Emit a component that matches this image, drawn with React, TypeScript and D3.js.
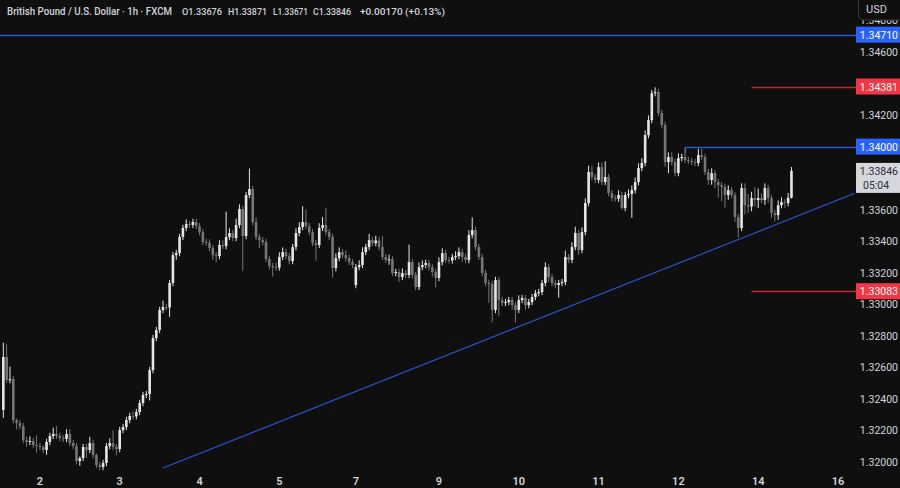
import React from "react";
import * as d3 from "d3";

// ---------- data ----------
const title = "British Pound / U.S. Dollar · 1h · FXCM";
const ohlcLabels = ["O1.33676", "H1.33871", "L1.33671", "C1.33846", "+0.00170 (+0.13%)"];

const firstOpen = 1.3233;
const gapIndex = 106; // weekend gap candle
const gapOpen = 1.33122;

const closes = [
  1.32666, 1.3252, 1.32525, 1.32266, 1.32247, 1.32228, 1.32139, 1.32127, 1.32133, 1.32108,
  1.32101, 1.32095, 1.32076, 1.32127, 1.32165, 1.32178, 1.32165, 1.32152, 1.32146, 1.32178,
  1.3212, 1.32101, 1.32006, 1.32025, 1.32095, 1.32076, 1.3212, 1.32044, 1.31981, 1.31968,
  1.31994, 1.32101, 1.3212, 1.32095, 1.32082, 1.32203, 1.32222, 1.32266, 1.32292, 1.3229,
  1.32317, 1.32374, 1.32425, 1.32431, 1.32583, 1.32786, 1.32837, 1.32964, 1.32983, 1.3298,
  1.33135, 1.33312, 1.33325, 1.33427, 1.33484, 1.33509, 1.33503, 1.33522, 1.33496, 1.33458,
  1.33395, 1.33392, 1.33357, 1.33312, 1.33306, 1.33376, 1.33369, 1.33427, 1.33452, 1.3342,
  1.33503, 1.33604, 1.33433, 1.33693, 1.33731, 1.33522, 1.33427, 1.33407, 1.33395, 1.33287,
  1.33243, 1.33236, 1.33233, 1.333, 1.33331, 1.33306, 1.33274, 1.33363, 1.33452, 1.3349,
  1.33522, 1.33496, 1.33458, 1.33388, 1.33376, 1.33484, 1.33503, 1.33458, 1.33427, 1.3323,
  1.33293, 1.33331, 1.33312, 1.33293, 1.33268, 1.33249, 1.33236, 1.33249, 1.33331, 1.33363,
  1.33407, 1.33388, 1.33405, 1.33363, 1.333, 1.33281, 1.33285, 1.33198, 1.33205, 1.33173,
  1.33198, 1.33186, 1.33268, 1.33186, 1.3311, 1.33236, 1.33249, 1.33262, 1.33236, 1.33205,
  1.33167, 1.33268, 1.33325, 1.33281, 1.33278, 1.333, 1.33306, 1.33331, 1.333, 1.33281,
  1.33439, 1.33471, 1.33363, 1.333, 1.33198, 1.33135, 1.33129, 1.32964, 1.33154, 1.33027,
  1.33008, 1.33014, 1.33027, 1.32995, 1.32964, 1.33027, 1.3304, 1.32995, 1.33014, 1.33046,
  1.33071, 1.33078, 1.33135, 1.33236, 1.33173, 1.33135, 1.33122, 1.33135, 1.33141, 1.333,
  1.33281, 1.33363, 1.33452, 1.33344, 1.33458, 1.33642, 1.33839, 1.33807, 1.33788, 1.3387,
  1.33775, 1.33807, 1.33705, 1.33674, 1.3367, 1.33693, 1.3361, 1.33693, 1.33699, 1.33724,
  1.33775, 1.33864, 1.33896, 1.34073, 1.34168, 1.34339, 1.34346, 1.34213, 1.34137, 1.33902,
  1.33934, 1.33902, 1.33832, 1.33927, 1.33934, 1.33915, 1.33909, 1.33902, 1.33896, 1.33946,
  1.33934, 1.33839, 1.33788, 1.33832, 1.33775, 1.33756, 1.33744, 1.33693, 1.33724, 1.33693,
  1.33553, 1.33484, 1.33737, 1.33629, 1.3362, 1.33674, 1.33661, 1.33674, 1.33661, 1.33737,
  1.33674, 1.33579, 1.33566, 1.33629, 1.33648, 1.33642, 1.33676, 1.33846,
];

// upper / lower wick lengths in pips
const wickUp = [
  9, 8, 8, 2, 1, 2, 2, 2, 3, 2,
  6, 2, 1, 2, 2, 4, 5, 2, 2, 3,
  3, 2, 2, 1, 2, 2, 4, 2, 1, 2,
  2, 2, 3, 8, 2, 2, 2, 2, 2, 3,
  2, 2, 2, 2, 2, 2, 2, 2, 4, 2,
  2, 2, 2, 2, 2, 3, 2, 2, 2, 2,
  2, 2, 2, 2, 2, 3, 3, 16, 3, 2,
  4, 3, 2, 2, 13, 2, 3, 2, 2, 2,
  2, 2, 3, 3, 3, 2, 2, 2, 3, 3,
  10, 8, 2, 2, 2, 3, 5, 11, 2, 2,
  3, 3, 2, 3, 2, 2, 2, 3, 3, 2,
  4, 2, 3, 2, 7, 2, 3, 2, 2, 2,
  3, 2, 11, 2, 2, 3, 3, 2, 2, 2,
  2, 3, 3, 2, 2, 2, 3, 3, 2, 2,
  3, 8, 2, 2, 2, 2, 2, 2, 2, 2,
  2, 2, 2, 2, 2, 3, 2, 2, 2, 2,
  2, 2, 2, 3, 2, 2, 2, 2, 2, 4,
  2, 3, 4, 2, 3, 3, 4, 4, 2, 3,
  3, 10, 2, 2, 2, 3, 2, 2, 3, 3,
  3, 3, 3, 3, 3, 2, 3, 2, 2, 2,
  3, 3, 2, 3, 2, 6, 2, 2, 2, 4,
  4, 2, 2, 3, 2, 2, 2, 2, 3, 2,
  2, 2, 3, 3, 7, 4, 7, 6, 3, 3,
  2, 2, 2, 3, 3, 2, 3, 2.5,
];
const wickDn = [
  5, 2, 2, 2, 4, 2, 2, 3, 2, 2,
  4, 2, 2, 3, 2, 2, 2, 2, 2, 2,
  2, 2, 2, 3, 2, 5, 2, 2, 2, 2,
  2, 2, 2, 2, 4, 2, 2, 2, 2, 2,
  2, 2, 2, 2, 4, 2, 2, 2, 2, 2,
  6, 2, 3, 2, 2, 2, 2, 2, 2, 2,
  2, 2, 2, 3, 4, 2, 2, 2, 2, 2,
  2, 2, 22, 2, 2, 2, 2, 5, 2, 2,
  2, 6, 2, 2, 2, 2, 2, 2, 2, 2,
  2, 2, 2, 2, 10, 2, 2, 2, 2, 6,
  2, 2, 2, 2, 2, 2, 2, 2, 2, 2,
  2, 2, 2, 2, 2, 2, 3, 2, 2, 3,
  2, 2, 2, 2, 2, 2, 2, 2, 2, 3,
  6, 2, 2, 2, 2, 2, 2, 2, 3, 2,
  2, 2, 2, 2, 2, 2, 12, 8, 2, 10,
  2, 2, 2, 3, 8, 2, 2, 3, 2, 2,
  2, 2, 2, 2, 3, 2, 2, 8, 2, 2,
  2, 2, 2, 3, 2, 2, 2, 2, 2, 2,
  2, 2, 2, 2, 2, 2, 1, 2, 2, 15,
  2, 2, 2, 2, 2, 2, 2, 2, 2, 3,
  7, 2, 2, 2, 2, 2, 2, 2, 2, 2,
  2, 2, 3, 3, 4, 8, 9, 8, 3, 2,
  3, 6, 2, 6, 4, 3, 4, 5, 2, 3,
  3, 3, 4, 3, 2, 3, 2, 0.5,
];

const dayTickIndex = [11, 35, 59, 83, 106, 131, 155, 179, 203, 227, 251];
const dayTickLabel = ["2", "3", "4", "5", "7", "9", "10", "11", "12", "14", "16"];

const priceTicks = [1.32, 1.322, 1.324, 1.326, 1.328, 1.33, 1.332, 1.334, 1.336, 1.338, 1.34, 1.342, 1.344, 1.346, 1.348];

const levelPrices = [1.3471, 1.34381, 1.34, 1.33083];
const levelColors = ["blue", "red", "blue", "red"];
const levelStartIndex = [-1, 225, 205, 225];

const trendIndex = [48, 256];
const trendPrice = [1.31962, 1.33704];

const lastPrice = 1.33846;
const countdown = "05:04";
const currency = "USD";

// header item placement (px)
const titleX = 7;
const titleW = 165;
const ohlcX = [182, 228, 273, 313, 360];
const ohlcW = [40, 39, 35, 38, 85];

// ---------- layout ----------
const W = 900;
const H = 488;
const plotRight = 848;
const axisTextEnd = 898;
const BG = "#0f0f0f";
const BULL = "#e6e6e6";
const BEAR = "#767676";
const BLUE_LINE = "#2c56d8";
const BLUE_BOX = "#2962ff";
const RED_LINE = "#d0232f";
const RED_BOX = "#f23645";
const TEXT = "#d1d4dc";
const FONT = "Roboto, 'Liberation Sans', Arial, sans-serif";

export default function App() {
  const x = d3.scaleLinear().domain([-1, 254]).range([0, plotRight]);
  const y = d3.scaleLinear().domain([1.32, 1.346]).range([462, 52]);
  const step = x(1) - x(0);
  const bodyW = step * 0.78;

  const candles = closes.map((c, i) => {
    const o = i === 0 ? firstOpen : i === gapIndex ? gapOpen : closes[i - 1];
    const h = Math.max(o, c) + wickUp[i] / 10000;
    const l = Math.min(o, c) - wickDn[i] / 10000;
    return { i, o, h, l, c, bull: c >= o };
  });

  const trend = d3.line<number>()
    .x((_, k) => x(trendIndex[k]))
    .y((p) => y(p));

  const boxCenters = [...levelPrices.map((p) => y(p)), y(lastPrice) + 7];
  const boxHalf = [8, 8, 8, 8, 15];
  const visibleTicks = priceTicks.filter((p) =>
    boxCenters.every((c, k) => Math.abs(y(p) - c) > boxHalf[k] + 1)
  );

  return (
    <div style={{ width: W, height: H, background: BG }}>
      <style>{`html,body{margin:0;padding:0;background:${BG};}`}</style>
      <svg width={W} height={H} style={{ display: "block", fontFamily: FONT }}>
        <rect x={0} y={0} width={W} height={H} fill={BG} />
        <defs>
          <clipPath id="plot">
            <rect x={0} y={0} width={856} height={472} />
          </clipPath>
        </defs>

        <g clipPath="url(#plot)">
          {levelPrices.map((p, k) => (
            <line
              key={"lv" + k}
              x1={x(levelStartIndex[k])}
              x2={856}
              y1={Math.round(y(p)) + 0.5}
              y2={Math.round(y(p)) + 0.5}
              stroke={levelColors[k] === "blue" ? BLUE_LINE : RED_LINE}
              strokeWidth={1.4}
            />
          ))}
          <line
            x1={Math.round(x(levelStartIndex[2])) + 0.5}
            x2={Math.round(x(levelStartIndex[2])) + 0.5}
            y1={Math.round(y(levelPrices[2]))}
            y2={Math.round(y(levelPrices[2])) + 6}
            stroke={BLUE_LINE}
            strokeWidth={1.2}
          />
          <path d={trend(trendPrice) || ""} fill="none" stroke={BLUE_LINE} strokeWidth={1.1} />

          {candles.map((d) => {
            const cx = x(d.i);
            const col = d.bull ? BULL : BEAR;
            const top = y(Math.max(d.o, d.c));
            const bot = y(Math.min(d.o, d.c));
            return (
              <g key={d.i}>
                <line x1={cx} x2={cx} y1={y(d.h)} y2={y(d.l)} stroke={col} strokeWidth={1} />
                <rect x={cx - bodyW / 2} y={top} width={bodyW} height={Math.max(1, bot - top)} fill={col} />
              </g>
            );
          })}
        </g>

        {visibleTicks.map((p) => (
          <text key={"pt" + p} x={axisTextEnd} y={y(p) + 4} fill={TEXT} fontSize={10.5} textAnchor="end">
            {p.toFixed(5)}
          </text>
        ))}

        {levelPrices.map((p, k) => (
          <g key={"lb" + k}>
            <rect
              x={856}
              y={y(p) - 8}
              width={46}
              height={16}
              fill={levelColors[k] === "blue" ? BLUE_BOX : RED_BOX}
            />
            <text x={axisTextEnd} y={y(p) + 4} fill="#ffffff" fontSize={10.5} textAnchor="end">
              {p.toFixed(5)}
            </text>
          </g>
        ))}

        <rect x={856} y={y(lastPrice) - 8} width={46} height={30} fill="#d5d7dc" />
        <text x={axisTextEnd} y={y(lastPrice) + 4} fill="#2a2e39" fontSize={10.5} textAnchor="end">
          {lastPrice.toFixed(5)}
        </text>
        <text x={863} y={y(lastPrice) + 18} fill="#2a2e39" fontSize={10.5}>
          {countdown}
        </text>

        <rect x={858.5} y={-6} width={50} height={26} rx={5} fill={BG} stroke="#3a3a3a" />
        <text x={866} y={13} fill={TEXT} fontSize={11}>
          {currency}
        </text>

        {dayTickIndex.map((ix, k) => (
          <text
            key={"dt" + k}
            x={x(ix)}
            y={485}
            fill={TEXT}
            fontSize={11}
            fontWeight={600}
            textAnchor="middle"
          >
            {dayTickLabel[k]}
          </text>
        ))}

        <text
          x={titleX}
          y={15}
          fill={TEXT}
          fontSize={10.2}
          fontWeight={500}
          textLength={titleW}
          lengthAdjust="spacingAndGlyphs"
        >
          {title}
        </text>
        {ohlcLabels.map((t, k) => (
          <text
            key={"oh" + k}
            x={ohlcX[k]}
            y={15}
            fill={TEXT}
            fontSize={9.6}
            fontWeight={500}
            textLength={ohlcW[k]}
            lengthAdjust="spacingAndGlyphs"
          >
            {t}
          </text>
        ))}
      </svg>
    </div>
  );
}
